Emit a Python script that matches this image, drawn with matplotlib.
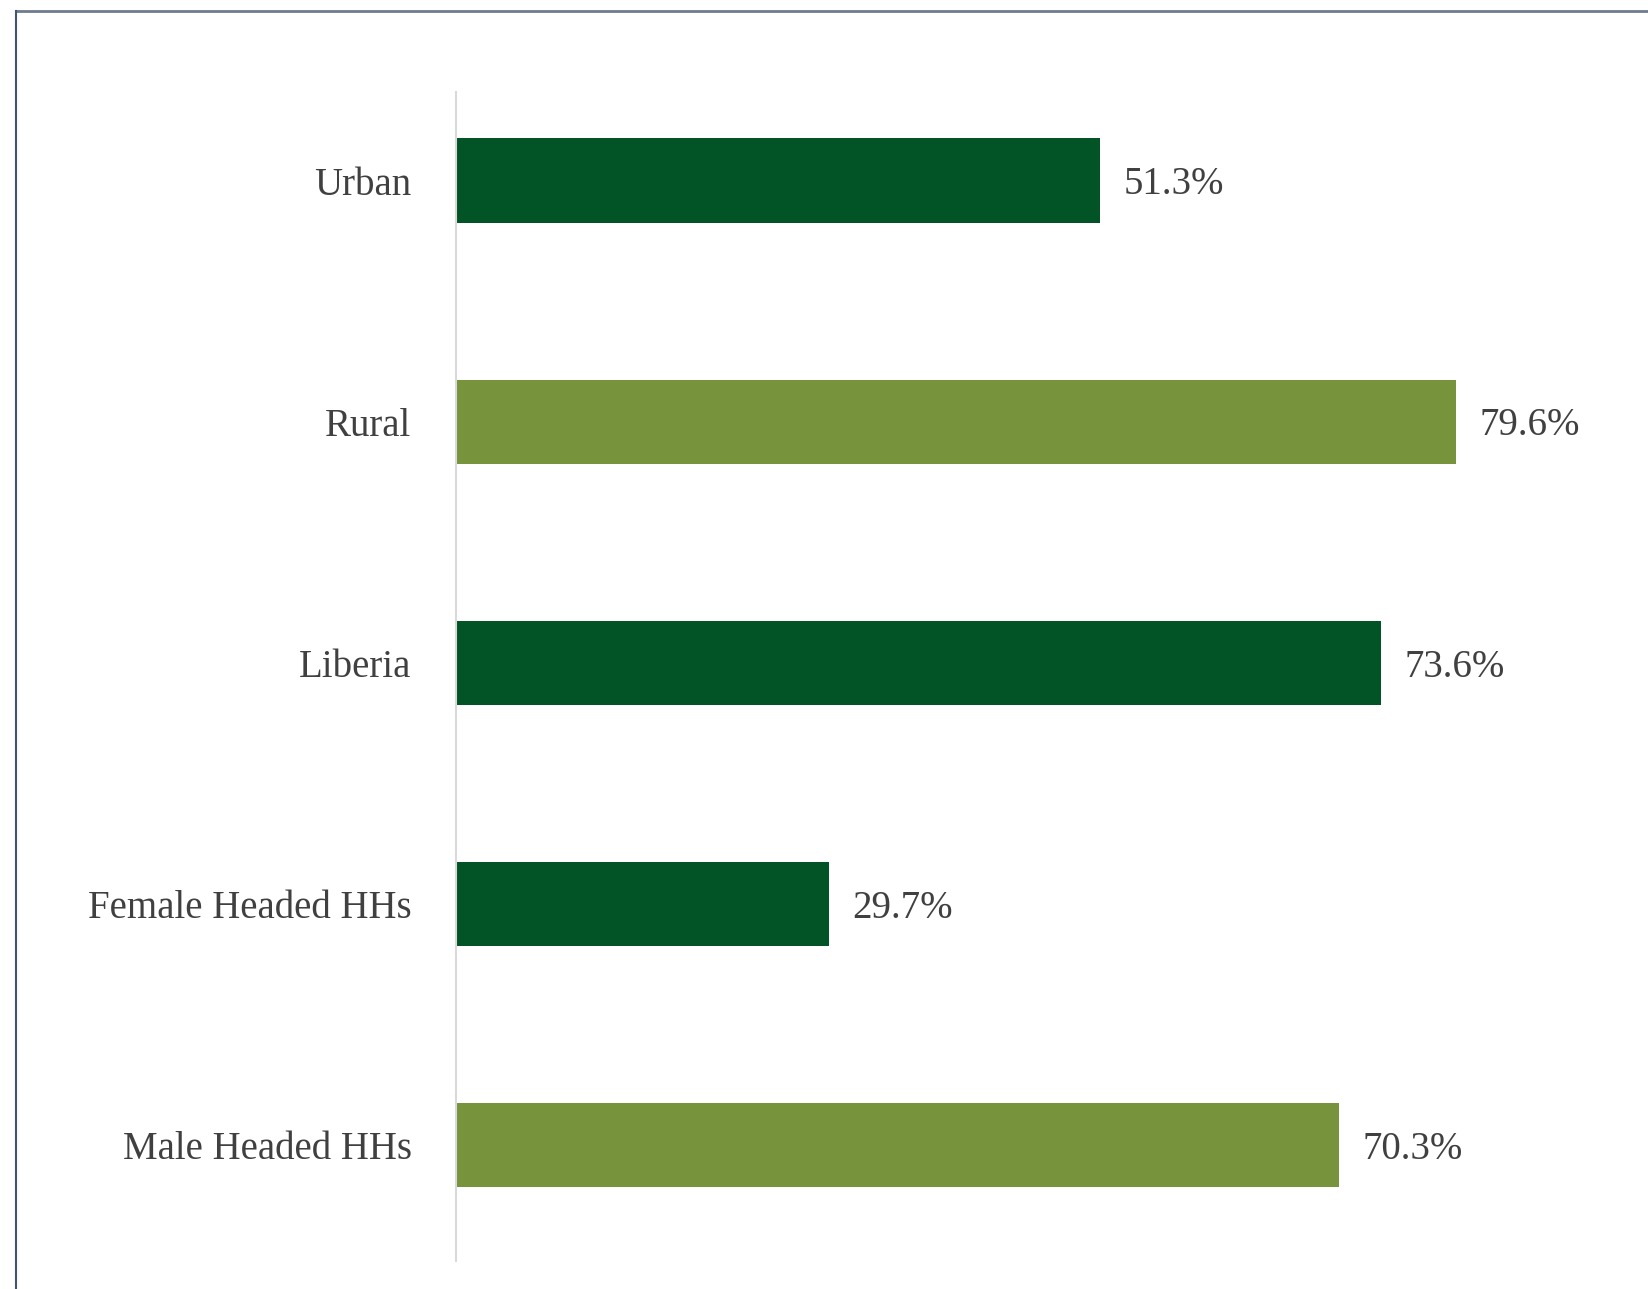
import matplotlib.pyplot as plt
from matplotlib.lines import Line2D

categories = ['Urban', 'Rural', 'Liberia', 'Female Headed HHs', 'Male Headed HHs']
values = [51.3, 79.6, 73.6, 29.7, 70.3]
bar_colors = ['#025426', '#77933C', '#025426', '#025426', '#77933C']
value_labels = ['51.3%', '79.6%', '73.6%', '29.7%', '70.3%']

plt.rcParams['font.family'] = ['Liberation Serif', 'DejaVu Serif']

fig = plt.figure(figsize=(16.48, 12.89), dpi=100)
ax = fig.add_axes([0.2767, 0.0217, 0.7165, 0.9066])

pos = list(range(len(categories)))
ax.barh(pos, values, height=0.35, color=bar_colors)
for p, v, lab in zip(pos, values, value_labels):
    ax.annotate(lab, (v, p), xytext=(17, -3), textcoords='offset points',
                va='center', ha='left', fontsize=28, color='#404040')

ax.set_xlim(0, 94)
ax.set_ylim(4.48, -0.366)
ax.set_yticks(pos)
ax.set_yticklabels(categories, fontsize=28, color='#404040')
ax.tick_params(axis='y', length=0, pad=32)
ax.set_xticks([])
for s in ['top', 'right', 'bottom']:
    ax.spines[s].set_visible(False)
ax.spines['left'].set_color('#D9D9D9')
ax.spines['left'].set_linewidth(1.5)

# slide frame
fig.add_artist(Line2D([16 / 1648, 1], [1 - 11 / 1289, 1 - 11 / 1289],
                      transform=fig.transFigure, color='#6E7B8E', lw=2))
fig.add_artist(Line2D([16 / 1648, 16 / 1648], [0, 1 - 11 / 1289],
                      transform=fig.transFigure, color='#44546A', lw=1.5))

fig.savefig('out.png', dpi=100)
